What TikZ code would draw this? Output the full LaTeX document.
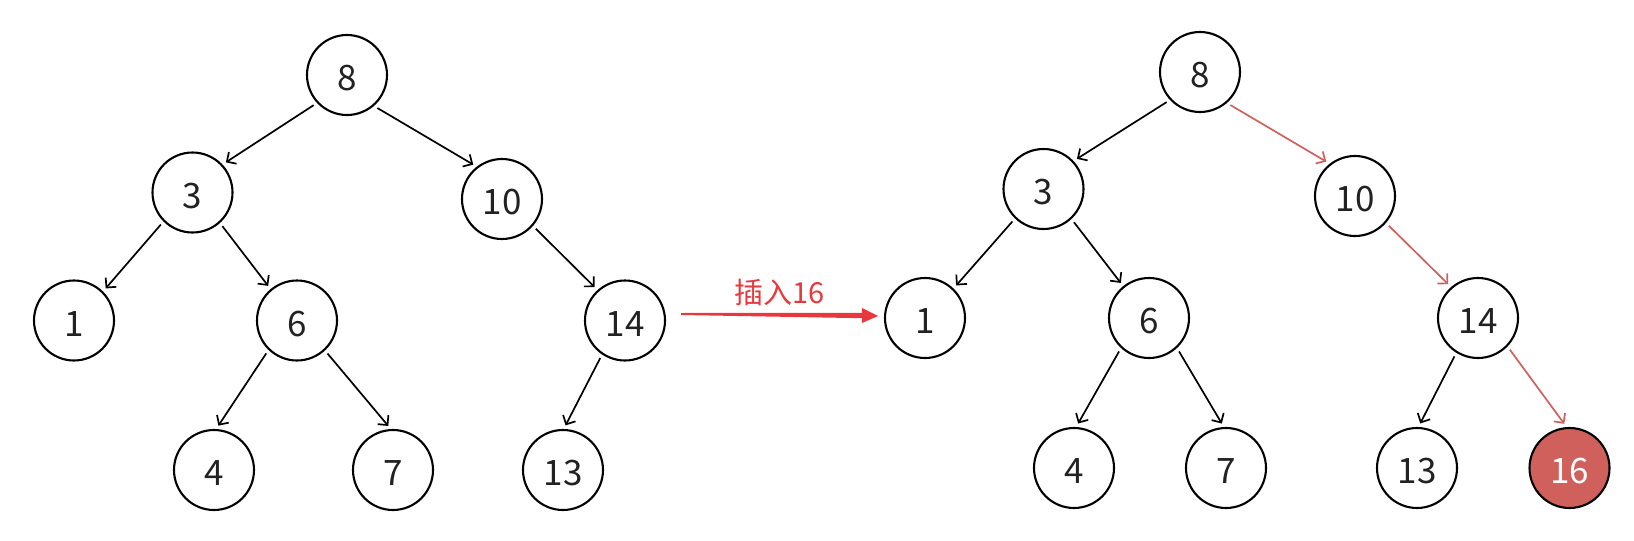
\documentclass[tikz,border=0pt]{standalone}
\usepackage{fontspec}
\setmainfont{Noto Sans CJK SC}
\usetikzlibrary{arrows.meta,calc}
\definecolor{txt}{HTML}{222222}
\definecolor{hl}{HTML}{D0605C}
\definecolor{arr}{HTML}{E8383D}
\begin{document}
\begin{tikzpicture}[x=1pt,y=-1pt,
  tn/.style={circle,draw=black,line width=2.1pt,minimum size=80pt,inner sep=0pt,
    font=\fontsize{35}{35}\selectfont,text=txt,text height=31pt,text depth=0pt},
  newn/.style={tn,fill=hl,text=white},
  ed/.style={draw=black,line width=1.7pt,-{Straight Barb[length=7pt,width=14pt]},
    shorten <=4pt,shorten >=4pt},
  hled/.style={ed,draw=hl},
  lab/.style={text=arr,font=\fontsize{29}{29}\selectfont}
]
\useasboundingbox (0,0) rectangle (1634,541);
% left tree
\node[tn] (L8) at (347,75) {8};
\node[tn] (L3) at (192.5,192.5) {3};
\node[tn] (L10) at (502,199) {10};
\node[tn] (L1) at (74,320.5) {1};
\node[tn] (L6) at (297,320.5) {6};
\node[tn] (L14) at (625,320.5) {14};
\node[tn] (L4) at (214,470) {4};
\node[tn] (L7) at (393,470) {7};
\node[tn] (L13) at (563,470) {13};
\draw[ed] (L8.223) -- (L3.43);
\draw[ed] (L8.311) -- (L10.128);
\draw[ed] (L3.225) -- (L1.45);
\draw[ed] (L3.312) -- (L6.130);
\draw[ed] (L6.226) -- (L4.87);
\draw[ed] (L6.313) -- (L7.93);
\draw[ed] (L10.319) -- (L14.132);
\draw[ed] (L14.236) -- (L13.89);
% right tree
\node[tn] (R8) at (1200,72) {8};
\node[tn] (R3) at (1043.5,189) {3};
\node[tn] (R10) at (1355,196) {10};
\node[tn] (R1) at (925,318) {1};
\node[tn] (R6) at (1149,318) {6};
\node[tn] (R14) at (1478,318) {14};
\node[tn] (R4) at (1074,468) {4};
\node[tn] (R7) at (1226,468) {7};
\node[tn] (R13) at (1417,468) {13};
\node[newn] (R16) at (1569.5,468) {16};
\draw[ed] (R8.223) -- (R3.43);
\draw[hled] (R8.311) -- (R10.128);
\draw[ed] (R3.226) -- (R1.46);
\draw[ed] (R3.313) -- (R6.129);
\draw[ed] (R6.227) -- (R4.87);
\draw[ed] (R6.313) -- (R7.93);
\draw[hled] (R10.319) -- (R14.131);
\draw[ed] (R14.238) -- (R13.88);
\draw[hled] (R14.316) -- (R16.94);
% insertion arrow
\coordinate (as) at ($(L14)+(56,-6.5)$);
\coordinate (at) at ($(R1)+(-47,-2)$);
\fill[arr] ($(as)+(0,-1)$) -- ($(at)+(-16,-3.2)$) -- ($(at)+(-16,-8)$) -- (at)
  -- ($(at)+(-16,7)$) -- ($(at)+(-16,2.2)$) -- ($(as)+(0,1)$) -- cycle;
\node[lab] (ins) at ($(as)!0.5!(at)+(0,-23)$) {插入16};
\end{tikzpicture}
\end{document}
